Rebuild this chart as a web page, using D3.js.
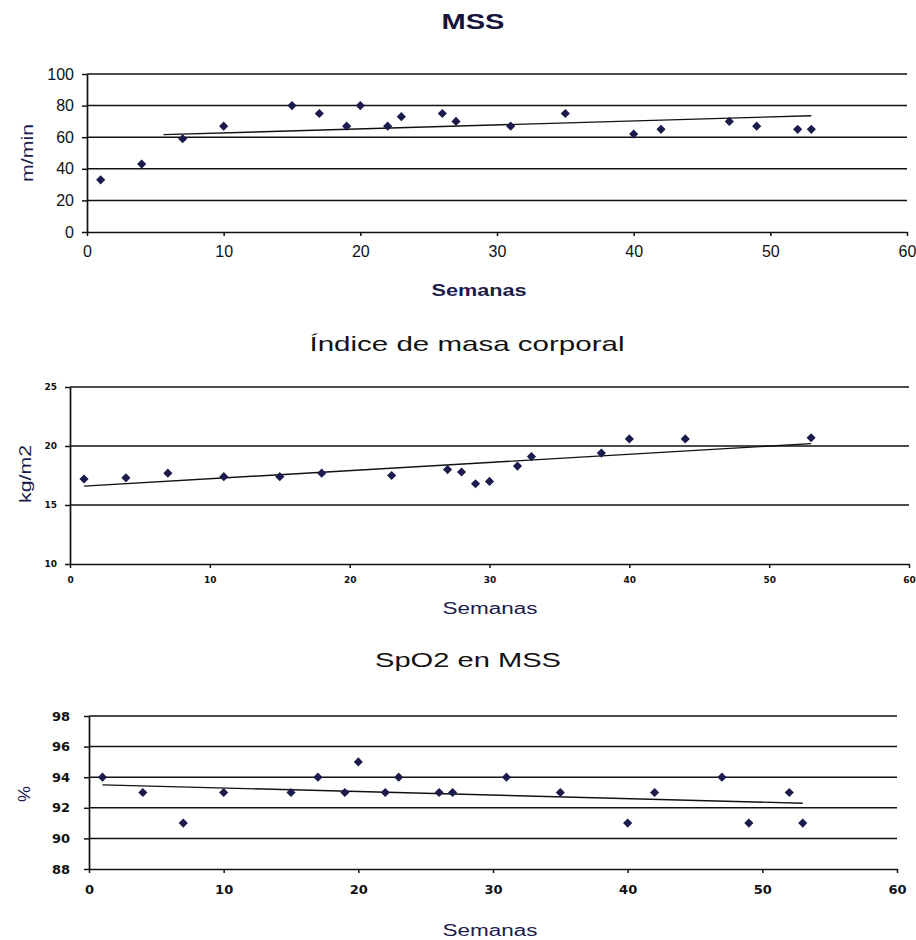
<!DOCTYPE html>
<html>
<head>
<meta charset="utf-8">
<script src="https://cdn.jsdelivr.net/npm/d3@7"></script>
<style>
  html, body { margin: 0; padding: 0; background: #fff; }
  svg { display: block; }
</style>
</head>
<body>
<div id="chart"></div>
<script>
// MSS (m/min) by week
const mssWeeks = [1, 4, 7, 10, 15, 17, 19, 20, 22, 23, 26, 27, 31, 35, 40, 42, 47, 49, 52, 53];
const mssValues = [33, 43, 59, 67, 80, 75, 67, 80, 67, 73, 75, 70, 67, 75, 62, 65, 70, 67, 65, 65];
const mssTrendWeeks = [5.6, 53];
const mssTrendValues = [61.6, 73.6];
const mssYTicks = [0, 20, 40, 60, 80, 100];

// Body mass index (kg/m2) by week
const imcWeeks = [1, 4, 7, 11, 15, 18, 23, 27, 28, 29, 30, 32, 33, 38, 40, 44, 53];
const imcValues = [17.2, 17.3, 17.7, 17.4, 17.4, 17.7, 17.5, 18.0, 17.8, 16.8, 17.0, 18.3, 19.1, 19.4, 20.6, 20.6, 20.7];
const imcTrendWeeks = [1, 53];
const imcTrendValues = [16.6, 20.2];
const imcYTicks = [10, 15, 20, 25];

// SpO2 (%) at MSS by week
const spoWeeks = [1, 4, 7, 10, 15, 17, 19, 20, 22, 23, 26, 27, 31, 35, 40, 42, 47, 49, 52, 53];
const spoValues = [94, 93, 91, 93, 93, 94, 93, 95, 93, 94, 93, 93, 94, 93, 91, 93, 94, 91, 93, 91];
const spoTrendWeeks = [1, 53];
const spoTrendValues = [93.5, 92.3];
const spoYTicks = [88, 90, 92, 94, 96, 98];

const xTicks = [0, 10, 20, 30, 40, 50, 60];

const W = 916, H = 940;
const svg = d3.select("#chart").append("svg")
    .attr("width", W)
    .attr("height", H);

const markerColor = "#1b1b4d";
const labelColor = "#1c1c4a";
const lineColor = "#111";

// stretched text helper (source image is wider than its fonts)
function label(g, txt, x, y, opts) {
    const t = g.append("text")
        .attr("x", x).attr("y", y)
        .attr("text-anchor", "middle")
        .attr("font-family", "'Liberation Sans', Arial, sans-serif")
        .attr("font-size", opts.size + "px")
        .attr("font-weight", opts.weight || "normal")
        .attr("fill", opts.color || "#111")
        .attr("textLength", opts.len)
        .attr("lengthAdjust", "spacingAndGlyphs")
        .text(txt);
    if (opts.rotate) t.attr("transform", `rotate(-90,${x},${y})`);
    return t;
}

function drawPanel(cfg) {
    const g = svg.append("g");
    const x = d3.scaleLinear().domain([0, 60]).range([cfg.left, cfg.right]);
    const y = d3.scaleLinear().domain([cfg.yTicks[0], cfg.yTicks[cfg.yTicks.length - 1]])
        .range([cfg.bottom, cfg.top]);

    // horizontal gridlines
    g.selectAll(".grid")
        .data(cfg.yTicks.slice(1))
        .enter().append("line")
        .attr("x1", cfg.left).attr("x2", cfg.right)
        .attr("y1", d => y(d)).attr("y2", d => y(d))
        .attr("stroke", lineColor)
        .attr("stroke-width", 1.5);

    // y axis
    const yAxis = g.append("g")
        .attr("transform", `translate(${cfg.left},0)`)
        .call(d3.axisLeft(y).tickValues(cfg.yTicks).tickSize(5).tickPadding(cfg.yPad).tickSizeOuter(0));
    // x axis
    const xAxis = g.append("g")
        .attr("transform", `translate(0,${cfg.bottom})`)
        .call(d3.axisBottom(x).tickValues(xTicks).tickSize(4).tickPadding(cfg.xPad).tickSizeOuter(0));

    [yAxis, xAxis].forEach(a => {
        a.select(".domain").attr("stroke", lineColor).attr("stroke-width", 1.7);
        a.selectAll(".tick line").attr("stroke", lineColor).attr("stroke-width", 1.5);
        a.selectAll(".tick text")
            .attr("font-family", cfg.tickFont)
            .attr("font-size", cfg.tickSize + "px")
            .attr("font-weight", cfg.tickWeight)
            .attr("fill", "#111");
    });

    // trend line
    const trend = cfg.trendX.map((d, i) => [d, cfg.trendY[i]]);
    g.append("path")
        .datum(trend)
        .attr("d", d3.line().x(d => x(d[0])).y(d => y(d[1])))
        .attr("fill", "none")
        .attr("stroke", lineColor)
        .attr("stroke-width", 1.4);

    // diamond markers
    const sym = d3.symbol().type(d3.symbolSquare).size(42);
    g.selectAll(".pt")
        .data(cfg.xs.map((d, i) => [d, cfg.ys[i]]))
        .enter().append("path")
        .attr("d", sym)
        .attr("transform", d => `translate(${x(d[0])},${y(d[1])}) rotate(45)`)
        .attr("fill", markerColor);

    label(g, cfg.title, cfg.titleX, cfg.titleY, cfg.titleStyle);
    label(g, "Semanas", cfg.xLabelX, cfg.xLabelY, { size: 16, len: 95, color: labelColor, weight: cfg.xLabelWeight });
    label(g, cfg.yLabel, cfg.yLabelX, cfg.yLabelY, { size: 16, len: cfg.yLabelLen, color: labelColor, rotate: true });
}

drawPanel({
    xs: mssWeeks, ys: mssValues, trendX: mssTrendWeeks, trendY: mssTrendValues, yTicks: mssYTicks,
    left: 87, right: 907, top: 74, bottom: 232,
    tickFont: "'Liberation Sans', Arial, sans-serif", tickSize: 16, tickWeight: "normal", yPad: 8, xPad: 10,
    title: "MSS", titleX: 473, titleY: 29, titleStyle: { size: 22, len: 63, weight: "bold", color: "#14143a" },
    xLabelX: 479, xLabelY: 296, xLabelWeight: "bold",
    yLabel: "m/min", yLabelX: 33, yLabelY: 153, yLabelLen: 58
});

drawPanel({
    xs: imcWeeks, ys: imcValues, trendX: imcTrendWeeks, trendY: imcTrendValues, yTicks: imcYTicks,
    left: 70, right: 909, top: 387, bottom: 564,
    tickFont: "'DejaVu Sans', sans-serif", tickSize: 9, tickWeight: "bold", yPad: 8, xPad: 9,
    title: "Índice de masa corporal", titleX: 467, titleY: 351, titleStyle: { size: 21, len: 315, color: "#111" },
    xLabelX: 490, xLabelY: 614,
    yLabel: "kg/m2", yLabelX: 31, yLabelY: 474, yLabelLen: 58
});

drawPanel({
    xs: spoWeeks, ys: spoValues, trendX: spoTrendWeeks, trendY: spoTrendValues, yTicks: spoYTicks,
    left: 89, right: 897, top: 716, bottom: 869,
    tickFont: "'DejaVu Sans', sans-serif", tickSize: 13, tickWeight: "bold", yPad: 14, xPad: 12,
    title: "SpO2 en MSS", titleX: 468, titleY: 667, titleStyle: { size: 21, len: 186, color: "#111" },
    xLabelX: 490, xLabelY: 936,
    yLabel: "%", yLabelX: 30, yLabelY: 794, yLabelLen: 16
});
</script>
</body>
</html>
